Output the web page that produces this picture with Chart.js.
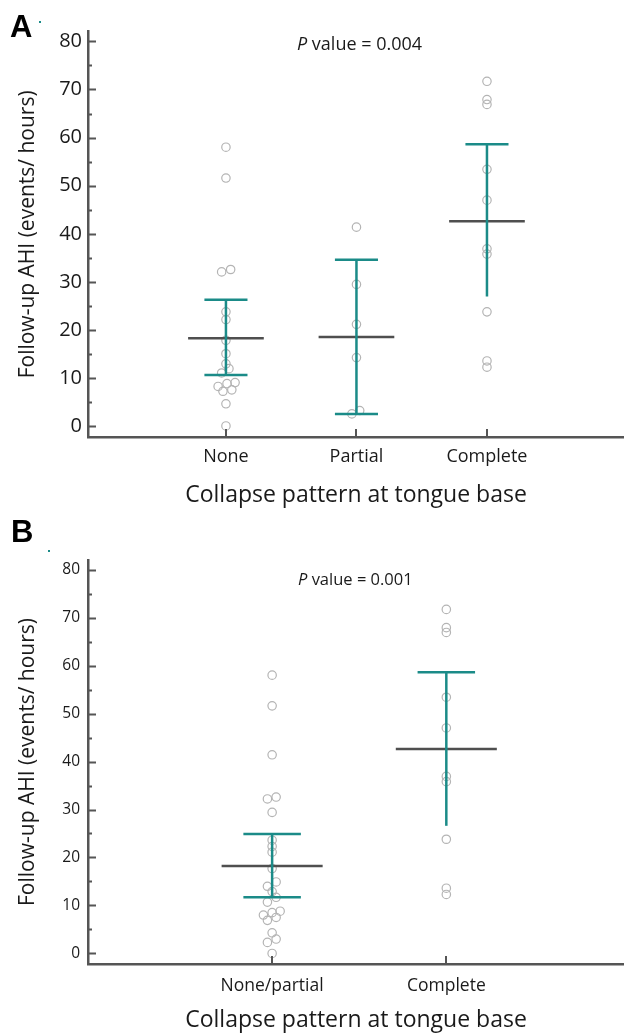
<!DOCTYPE html>
<html>
<head>
<meta charset="utf-8">
<script src="https://cdn.jsdelivr.net/npm/chart.js@4/dist/chart.umd.min.js"></script>
<style>
  html, body { margin: 0; padding: 0; background: #fff; }
  body { width: 624px; height: 1034px; position: relative; overflow: hidden; font-family: 'Open Sans', sans-serif; color: #1a1a1a; }
  .panel { position: absolute; left: 0; width: 624px; height: 517px; }
  #wrapA { top: 0; }
  #wrapB { top: 517px; }
  .letter { position: absolute; font-family: 'Liberation Sans', Arial, sans-serif; font-weight: bold; font-size: 31px; line-height: 30px; color: #000; }
  .pval { position: absolute; white-space: nowrap; color: #1a1a1a; }
  .dot { position: absolute; width: 2px; height: 2px; background: #1b8b88; }
</style>
</head>
<body>
<div class="panel" id="wrapA"><canvas id="chartA" width="624" height="517"></canvas></div>
<div class="panel" id="wrapB"><canvas id="chartB" width="624" height="517"></canvas></div>

<div class="letter" style="left:10px;top:12px;">A</div>
<div class="dot" style="left:39px;top:21px;"></div>
<div class="pval" style="left:297px;top:33px;font-size:18px;line-height:20px;"><i>P</i> value = 0.004</div>

<div class="letter" style="left:11px;top:517px;">B</div>
<div class="dot" style="left:48px;top:550px;"></div>
<div class="pval" style="left:298px;top:570px;font-size:16.5px;line-height:18px;"><i>P</i> value = 0.001</div>

<script>
// ── data: panel A (three collapse patterns) ────────────────────────────────
const catsA = ['None', 'Partial', 'Complete'];
const noneAHI     = [58.0, 51.6, 32.1, 32.6, 23.8, 22.2, 17.9, 15.1, 13.0, 12.0, 11.1, 9.1, 8.9, 8.3, 7.6, 7.3, 4.7, 0.1];
const noneJitA    = [0, 0, -0.033, 0.036, 0, 0, 0, 0, 0, 0.023, -0.033, 0.07, 0.008, -0.06, 0.045, -0.023, 0, 0];
const partialAHI  = [41.4, 29.5, 21.2, 14.3, 2.6, 3.3];
const partialJitA = [0, 0, 0, 0, -0.035, 0.025];
const completeAHI = [71.7, 67.9, 66.9, 53.4, 47.0, 36.9, 35.8, 23.8, 13.6, 12.3];
const completeJit = [0, 0, 0, 0, 0, 0, 0, 0, 0, 0];
const meanA  = [18.3, 18.6, 42.6];
const upperA = [26.3, 34.6, 58.6];
const lowerA = [10.7, 2.6, 27.0];
const lowerCapA = [true, true, false];

// ── data: panel B (none/partial merged) ───────────────────────────────────
const catsB = ['None/partial', 'Complete'];
const nonePartialAHI  = [58.0, 51.6, 41.4, 32.2, 32.6, 29.4, 23.6, 22.3, 21.1, 17.7, 14.9, 14.0, 12.9, 11.7, 10.7, 8.0, 8.5, 8.8, 6.9, 7.5, 4.3, 2.3, 3.0, 0.0];
const nonePartialJitB = [0, 0, 0, -0.027, 0.023, 0, 0, 0, 0, 0, 0.023, -0.027, 0, 0.023, -0.027, -0.05, 0, 0.046, -0.027, 0.023, 0, -0.027, 0.023, 0];
const meanB  = [18.2, 42.6];
const upperB = [24.9, 58.6];
const lowerB = [11.7, 26.6];
const lowerCapB = [true, false];

// ── axis ticks ────────────────────────────────────────────────────────────
const yMajor = [0, 10, 20, 30, 40, 50, 60, 70, 80];
const yMinor = [5, 15, 25, 35, 45, 55, 65, 75];

const TEAL = '#1b8b88';
const GREY = '#4f4f4f';
const AXIS = '#555555';
const PT   = '#b4b4b4';
const TXT  = '#1a1a1a';
const MEAN_HALF = 0.29;
const CAP_HALF  = 0.165;

Chart.defaults.font.family = "'Open Sans', sans-serif";

// inward tick marks, like the original figure
const innerTicks = {
  id: 'innerTicks',
  afterDraw(chart) {
    const { ctx, scales: { x, y } } = chart;
    const left = chart.chartArea.left, bottom = chart.chartArea.bottom;
    ctx.save();
    ctx.strokeStyle = AXIS;
    ctx.lineWidth = 2;
    ctx.beginPath();
    yMajor.forEach(v => { const p = Math.round(y.getPixelForValue(v)) + 0.5; ctx.moveTo(left, p); ctx.lineTo(left + 8, p); });
    yMinor.forEach(v => { const p = Math.round(y.getPixelForValue(v)) + 0.5; ctx.moveTo(left, p); ctx.lineTo(left + 4, p); });
    chart.options.catLabels.forEach((c, i) => { const p = Math.round(x.getPixelForValue(i + 1)); ctx.moveTo(p, bottom); ctx.lineTo(p, bottom - 8); });
    ctx.stroke();
    ctx.restore();
  }
};

function seg(x1, y1, x2, y2, color, order) {
  return { data: [{ x: x1, y: y1 }, { x: x2, y: y2 }], showLine: true, borderColor: color, borderWidth: 2.5, pointRadius: 0, order };
}

function makeChart(id, o) {
  const ds = [];
  o.cats.forEach((c, i) => {
    const pos = i + 1;
    ds.push({
      data: o.values[i].map((v, k) => ({ x: pos + o.jitter[i][k], y: v })),
      pointRadius: 4.2, pointBorderWidth: 1.2, pointBorderColor: PT, pointBackgroundColor: 'rgba(0,0,0,0)', order: 3
    });
    ds.push(seg(pos - MEAN_HALF, o.mean[i], pos + MEAN_HALF, o.mean[i], GREY, 2));
    ds.push(seg(pos, o.lower[i], pos, o.upper[i], TEAL, 1));
    ds.push(seg(pos - CAP_HALF, o.upper[i], pos + CAP_HALF, o.upper[i], TEAL, 1));
    if (o.lowerCap[i]) ds.push(seg(pos - CAP_HALF, o.lower[i], pos + CAP_HALF, o.lower[i], TEAL, 1));
  });

  return new Chart(document.getElementById(id), {
    type: 'scatter',
    data: { datasets: ds },
    plugins: [innerTicks],
    options: {
      responsive: false, animation: false,
      catLabels: o.cats,
      layout: { autoPadding: false, padding: { top: o.padTop, left: 0, right: 0, bottom: 0 } },
      plugins: { legend: { display: false }, tooltip: { enabled: false } },
      scales: {
        x: {
          type: 'linear', min: -0.057, max: o.xMax,
          afterFit: s => { s.height = o.xAxisH; },
          afterBuildTicks: s => { s.ticks = o.cats.map((c, i) => ({ value: i + 1 })); },
          grid: { display: false, drawTicks: false },
          border: { display: true, color: AXIS, width: 2.5 },
          ticks: { callback: v => o.cats[v - 1], color: TXT, font: { size: o.xTickSize }, padding: o.xTickPad, maxRotation: 0, autoSkip: false },
          title: { display: true, text: 'Collapse pattern at tongue base', color: TXT, font: { size: 23 }, padding: { top: 0, bottom: o.xTitlePad } }
        },
        y: {
          min: -2.2, max: 82,
          afterFit: s => { s.width = 88; },
          afterBuildTicks: s => { s.ticks = yMajor.map(v => ({ value: v })); },
          grid: { display: false, drawTicks: false },
          border: { display: true, color: AXIS, width: 2.5 },
          ticks: { color: TXT, font: { size: o.yTickSize }, padding: o.yTickPad },
          title: { display: true, text: 'Follow-up AHI (events/ hours)', color: TXT, font: { size: 21 }, padding: { top: 15, bottom: 0 } }
        }
      }
    }
  });
}

makeChart('chartA', {
  cats: catsA,
  values: [noneAHI, partialAHI, completeAHI],
  jitter: [noneJitA, partialJitA, completeJit],
  mean: meanA, upper: upperA, lower: lowerA, lowerCap: lowerCapA,
  padTop: 31.7, xAxisH: 80, xMax: 4.05,
  xTickSize: 18, xTickPad: 9, xTitlePad: 8,
  yTickSize: 20, yTickPad: 6
});

makeChart('chartB', {
  cats: catsB,
  values: [nonePartialAHI, completeAHI],
  jitter: [nonePartialJitB, completeJit],
  mean: meanB, upper: upperB, lower: lowerB, lowerCap: lowerCapB,
  padTop: 43, xAxisH: 70, xMax: 3.02,
  xTickSize: 17.5, xTickPad: 12, xTitlePad: 0,
  yTickSize: 15.5, yTickPad: 8
});
</script>
</body>
</html>
